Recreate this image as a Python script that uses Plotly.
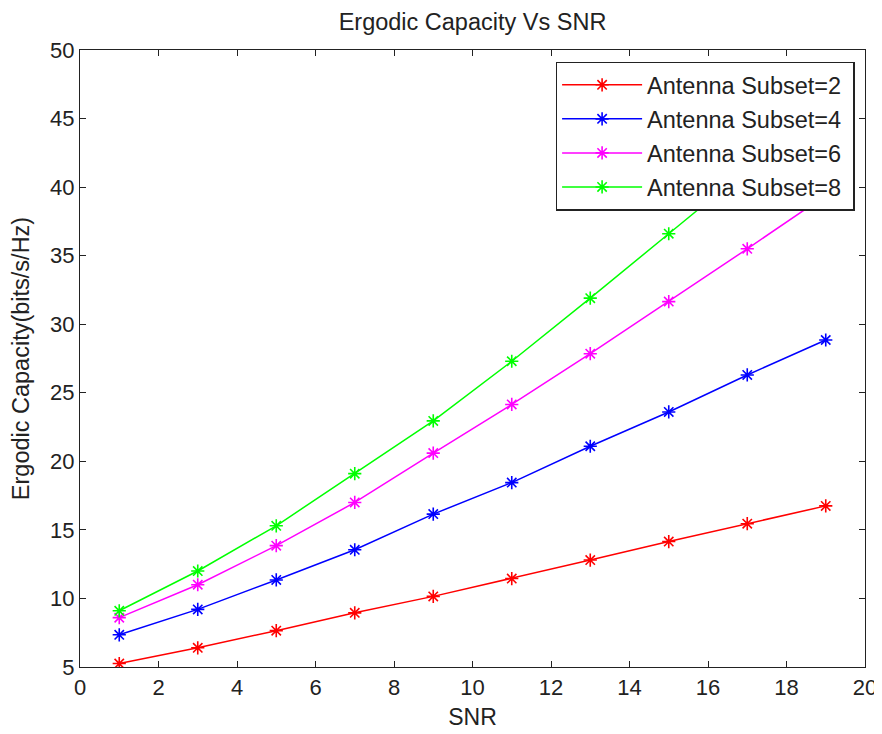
import plotly.graph_objects as go

snr = [1, 3, 5, 7, 9, 11, 13, 15, 17, 19]
subset2 = [5.25, 6.4, 7.65, 8.95, 10.15, 11.45, 12.8, 14.15, 15.45, 16.75]
subset4 = [7.35, 9.2, 11.35, 13.55, 16.15, 18.45, 21.1, 23.6, 26.3, 28.85]
subset6 = [8.6, 11.0, 13.85, 17.0, 20.6, 24.15, 27.85, 31.65, 35.5, 39.4]
subset8 = [9.1, 12.0, 15.3, 19.1, 22.95, 27.3, 31.9, 36.6, 41.3, 46.0]

names = ["Antenna Subset=2", "Antenna Subset=4", "Antenna Subset=6", "Antenna Subset=8"]
colors = ["#FF0000", "#0000FF", "#FF00FF", "#00FF00"]
series = [subset2, subset4, subset6, subset8]

font_family = "Liberation Sans, Arial, sans-serif"
ink = "#222222"

W, H = 874, 726  # page body has an 8px margin

fig = go.Figure()
for i, (name, col, ys) in enumerate(zip(names, colors, series)):
    fig.add_trace(go.Scatter(
        x=snr, y=ys, name=name + "\u00a0", mode="lines+markers", legendgroup=f"g{i}",
        line=dict(color=col, width=1.5),
        marker=dict(symbol="asterisk-open", size=11, color=col,
                    line=dict(color=col, width=1.6)),
    ))

axis_common = dict(
    showgrid=False, zeroline=False, showline=True, linecolor=ink, linewidth=1.3,
    mirror="ticks", ticks="inside", ticklen=6, tickcolor=ink, tickwidth=1.3,
    tickfont=dict(family=font_family, size=22, color=ink), automargin=False,
)

fig.update_layout(
    width=W, height=H,
    margin=dict(l=72, r=17, t=42, b=67),
    paper_bgcolor="white", plot_bgcolor="white",
    font=dict(family=font_family, size=22, color=ink),
    title=dict(text="Ergodic Capacity Vs SNR", xref="paper", x=0.5, xanchor="center",
               yref="container", y=1 - 14 / H, yanchor="middle",
               font=dict(size=23.5, color=ink)),
    xaxis=dict(range=[0, 20], dtick=2, tick0=0,
               title=dict(text="SNR", standoff=10, font=dict(size=23)), **axis_common),
    yaxis=dict(range=[5, 50], dtick=5, tick0=5,
               title=dict(text="Ergodic Capacity(bits/s/Hz)", standoff=17, font=dict(size=23.5)),
               **axis_common),
    legend=dict(x=0.987, y=0.981, xanchor="right", yanchor="top",
                bgcolor="white", bordercolor=ink, borderwidth=1.3,
                font=dict(size=23.5, color=ink), itemwidth=80,
                tracegroupgap=0.5),
    showlegend=True,
)

fig.write_html("out.html")
